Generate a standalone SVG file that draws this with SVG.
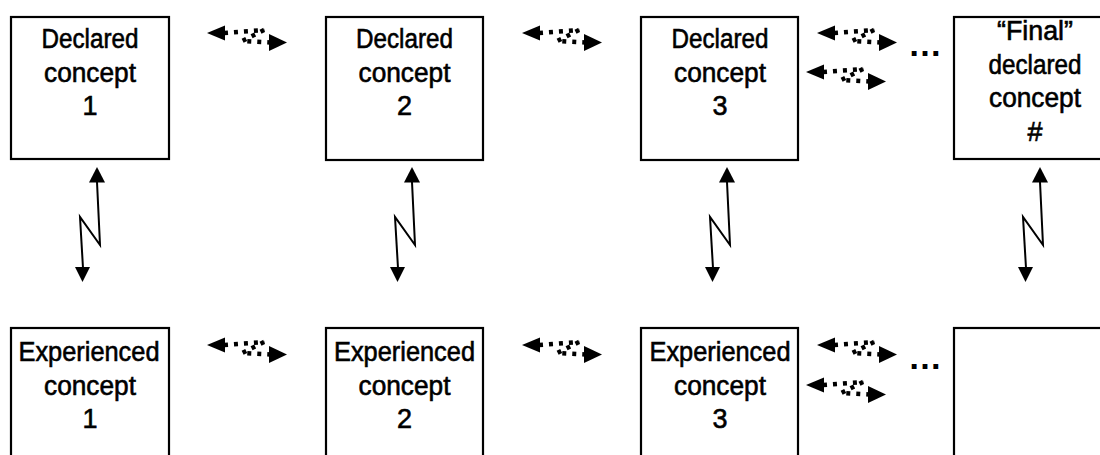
<svg xmlns="http://www.w3.org/2000/svg" xmlns:xlink="http://www.w3.org/1999/xlink" width="1100" height="455" viewBox="0 0 1100 455">
  <style>
    .box { fill: #fff; stroke: #000; stroke-width: 2.2; }
    .lbl { font-family: "Liberation Sans", Arial, sans-serif; font-size: 27px; fill: #000; stroke: #000; stroke-width: 0.6; text-anchor: middle; }
    .dots { font-family: "Liberation Sans", Arial, sans-serif; font-size: 34px; font-weight: bold; fill: #000; text-anchor: middle; }
    .zig { fill: none; stroke: #000; stroke-width: 2; stroke-linejoin: miter; }
    .dash { fill: none; stroke: #000; stroke-width: 4.5; stroke-dasharray: 4 6; }
    .head { fill: #000; stroke: none; }
  </style>
  <defs>
    <!-- double-headed dotted link, left tip at origin -->
    <g id="dashLink">
      <polygon class="head" points="0,0 18,-7.5 18,7.5"/>
      <path class="dash" d="M17,0 L57,-3 L35,8 L63,9.5"/>
      <polygon class="head" points="62,1 62,18 80,9.5"/>
    </g>
    <!-- vertical zigzag double arrow, top tip at origin -->
    <g id="zigLink">
      <polygon class="head" points="0,0 -8,15.5 8,15.5"/>
      <polyline class="zig" points="0,15 3,78 -17,50 -14,101"/>
      <polygon class="head" points="-22,100 -7,100 -14.5,115"/>
    </g>
  </defs>

  <rect width="1100" height="455" fill="#fff"/>

  <!-- declared concepts -->
  <g id="declared1">
    <rect class="box" x="11" y="17" width="158" height="142"/>
    <text class="lbl" x="90" y="48" textLength="97" lengthAdjust="spacingAndGlyphs">Declared</text>
    <text class="lbl" x="90" y="81.5" textLength="92" lengthAdjust="spacingAndGlyphs">concept</text>
    <text class="lbl" x="90" y="115">1</text>
  </g>
  <g id="declared2">
    <rect class="box" x="326" y="17" width="157" height="143"/>
    <text class="lbl" x="404.5" y="48" textLength="97" lengthAdjust="spacingAndGlyphs">Declared</text>
    <text class="lbl" x="404.5" y="81.5" textLength="92" lengthAdjust="spacingAndGlyphs">concept</text>
    <text class="lbl" x="404.5" y="115">2</text>
  </g>
  <g id="declared3">
    <rect class="box" x="641" y="17" width="157" height="143"/>
    <text class="lbl" x="720" y="48" textLength="97" lengthAdjust="spacingAndGlyphs">Declared</text>
    <text class="lbl" x="720" y="81.5" textLength="92" lengthAdjust="spacingAndGlyphs">concept</text>
    <text class="lbl" x="720" y="115">3</text>
  </g>
  <g id="declaredFinal">
    <rect class="box" x="954" y="17" width="158" height="142"/>
    <text class="lbl" x="1035" y="40" textLength="76" lengthAdjust="spacingAndGlyphs">“Final”</text>
    <text class="lbl" x="1035" y="73.5" textLength="93" lengthAdjust="spacingAndGlyphs">declared</text>
    <text class="lbl" x="1035" y="107" textLength="92" lengthAdjust="spacingAndGlyphs">concept</text>
    <text class="lbl" x="1035" y="140.5">#</text>
  </g>

  <!-- experienced concepts -->
  <g id="experienced1">
    <rect class="box" x="11" y="328" width="158" height="140"/>
    <text class="lbl" x="89" y="361" textLength="141" lengthAdjust="spacingAndGlyphs">Experienced</text>
    <text class="lbl" x="90" y="394.5" textLength="92" lengthAdjust="spacingAndGlyphs">concept</text>
    <text class="lbl" x="90" y="428">1</text>
  </g>
  <g id="experienced2">
    <rect class="box" x="326" y="328" width="157" height="140"/>
    <text class="lbl" x="404.5" y="361" textLength="141" lengthAdjust="spacingAndGlyphs">Experienced</text>
    <text class="lbl" x="404.5" y="394.5" textLength="92" lengthAdjust="spacingAndGlyphs">concept</text>
    <text class="lbl" x="404.5" y="428">2</text>
  </g>
  <g id="experienced3">
    <rect class="box" x="641" y="328" width="157" height="140"/>
    <text class="lbl" x="720" y="361" textLength="141" lengthAdjust="spacingAndGlyphs">Experienced</text>
    <text class="lbl" x="720" y="394.5" textLength="92" lengthAdjust="spacingAndGlyphs">concept</text>
    <text class="lbl" x="720" y="428">3</text>
  </g>
  <g id="experiencedFinal">
    <rect class="box" x="954" y="328" width="158" height="140"/>
  </g>

  <!-- connectors -->
  <g id="connectors">
    <use xlink:href="#dashLink" x="207" y="33"/>
    <use xlink:href="#dashLink" x="522" y="33"/>
    <use xlink:href="#dashLink" x="817" y="33"/>
    <use xlink:href="#dashLink" x="806" y="72"/>
    <use xlink:href="#dashLink" x="207" y="345"/>
    <use xlink:href="#dashLink" x="522" y="345"/>
    <use xlink:href="#dashLink" x="817" y="345"/>
    <use xlink:href="#dashLink" x="806" y="385"/>

    <use xlink:href="#zigLink" x="97" y="167"/>
    <use xlink:href="#zigLink" x="412" y="167"/>
    <use xlink:href="#zigLink" x="727" y="167"/>
    <use xlink:href="#zigLink" x="1040" y="167"/>

    <text class="dots" x="925" y="56">…</text>
    <text class="dots" x="925" y="369">…</text>
  </g>
</svg>
